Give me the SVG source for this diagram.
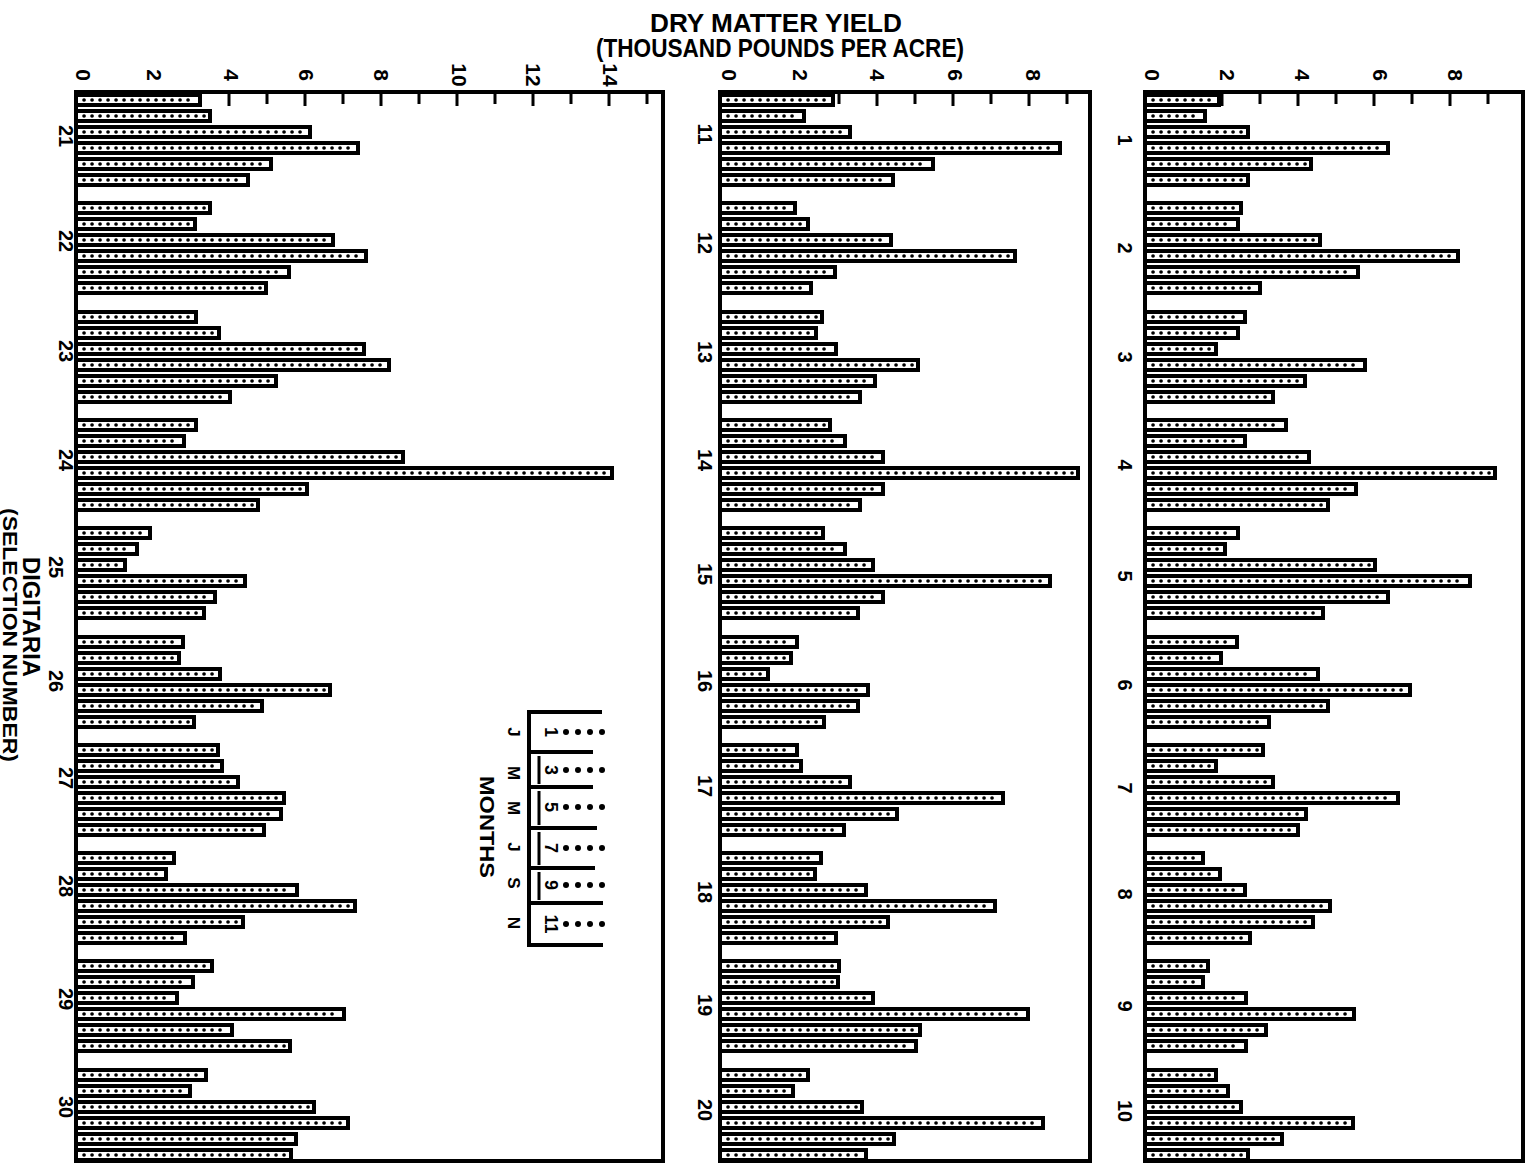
<svg xmlns="http://www.w3.org/2000/svg" width="1532" height="1164" viewBox="0 0 1532 1164">
<style>
text{font-family:"Liberation Sans",Arial,sans-serif;font-weight:bold;fill:#000}
.t{font-size:25px;text-anchor:middle}
.r{text-anchor:middle;dominant-baseline:central}
.ax{font-size:21px}
.lab{font-size:20px}
.leg{font-size:18px}
.frame{fill:none;stroke:#000;stroke-width:4}
.tick{stroke:#000;stroke-width:3}
.bar{fill:#fff;stroke:#000;stroke-width:4}
.dots{fill:none;stroke:#000;stroke-width:3.6;stroke-linecap:round;stroke-dasharray:0.1 7.9}
.ln{stroke:#000;stroke-width:4;fill:none}
</style>
<rect width="1532" height="1164" fill="#fff"/>
<g id="title">
<text class="t" x="776" y="32" textLength="252" lengthAdjust="spacingAndGlyphs">DRY MATTER YIELD</text>
<text class="t" x="780" y="57" font-size="24" textLength="368" lengthAdjust="spacingAndGlyphs">(THOUSAND POUNDS PER ACRE)</text>
</g>
<g id="axis-title">
<text class="r" font-size="23" transform="translate(31,617) rotate(90)" textLength="120" lengthAdjust="spacingAndGlyphs">DIGITARIA</text>
<text class="r" font-size="21" transform="translate(10,635) rotate(90)" textLength="254" lengthAdjust="spacingAndGlyphs">(SELECTION NUMBER)</text>
</g>
<g id="panel-1">
<path class="tick" d="M115 92V104M153 92V106M191 92V104M229 92V106M267 92V104M305 92V106M343 92V104M381 92V106M419 92V104M457 92V106M495 92V104M533 92V106M571 92V104M609 92V106M647 92V104"/>
<g class="ax r">
<text transform="translate(83,75) rotate(90)">0</text>
<text transform="translate(154,75) rotate(90)">2</text>
<text transform="translate(231,75) rotate(90)">4</text>
<text transform="translate(306,75) rotate(90)">6</text>
<text transform="translate(381,75) rotate(90)">8</text>
<text transform="translate(459,75) rotate(90)">10</text>
<text transform="translate(533,75) rotate(90)">12</text>
<text transform="translate(610,75) rotate(90)">14</text>
</g>
</g>
<g id="panel-2">
<path class="tick" d="M763 92V104M801 92V106M839 92V104M877 92V106M915 92V104M953 92V106M991 92V104M1029 92V106M1067 92V104"/>
<g class="ax r">
<text transform="translate(729,75) rotate(90)">0</text>
<text transform="translate(800,75) rotate(90)">2</text>
<text transform="translate(877,75) rotate(90)">4</text>
<text transform="translate(955,75) rotate(90)">6</text>
<text transform="translate(1033,75) rotate(90)">8</text>
</g>
</g>
<g id="panel-3">
<path class="tick" d="M1184 92V104M1222 92V106M1260 92V104M1298 92V106M1336 92V104M1374 92V106M1412 92V104M1450 92V106M1488 92V104"/>
<g class="ax r">
<text transform="translate(1152,75) rotate(90)">0</text>
<text transform="translate(1227,75) rotate(90)">2</text>
<text transform="translate(1302,75) rotate(90)">4</text>
<text transform="translate(1380,75) rotate(90)">6</text>
<text transform="translate(1455,75) rotate(90)">8</text>
</g>
</g>

<g id="sel-21" transform="translate(76,93)"><text class="lab r" transform="translate(-10,43) rotate(90)">21</text>
<rect class="bar" x="0" y="2" width="124" height="10"/><rect class="bar" x="0" y="18" width="134" height="10"/><rect class="bar" x="0" y="34" width="234" height="10"/><rect class="bar" x="0" y="50" width="282" height="10"/><rect class="bar" x="0" y="66" width="195" height="10"/><rect class="bar" x="0" y="82" width="172" height="10"/>
<path class="dots" d="M8 7H119M8 23H129M8 39H229M8 55H277M8 71H190M8 87H167"/></g>
<g id="sel-22" transform="translate(76,201)"><text class="lab r" transform="translate(-10,40) rotate(90)">22</text>
<rect class="bar" x="0" y="2" width="134" height="10"/><rect class="bar" x="0" y="18" width="119" height="10"/><rect class="bar" x="0" y="34" width="257" height="10"/><rect class="bar" x="0" y="50" width="290" height="10"/><rect class="bar" x="0" y="66" width="213" height="10"/><rect class="bar" x="0" y="82" width="190" height="10"/>
<path class="dots" d="M8 7H129M8 23H114M8 39H252M8 55H285M8 71H208M8 87H185"/></g>
<g id="sel-23" transform="translate(76,310)"><text class="lab r" transform="translate(-10,41) rotate(90)">23</text>
<rect class="bar" x="0" y="2" width="120" height="10"/><rect class="bar" x="0" y="18" width="143" height="10"/><rect class="bar" x="0" y="34" width="288" height="10"/><rect class="bar" x="0" y="50" width="313" height="10"/><rect class="bar" x="0" y="66" width="200" height="10"/><rect class="bar" x="0" y="82" width="154" height="10"/>
<path class="dots" d="M8 7H115M8 23H138M8 39H283M8 55H308M8 71H195M8 87H149"/></g>
<g id="sel-24" transform="translate(76,418)"><text class="lab r" transform="translate(-10,42) rotate(90)">24</text>
<rect class="bar" x="0" y="2" width="120" height="10"/><rect class="bar" x="0" y="18" width="108" height="10"/><rect class="bar" x="0" y="34" width="327" height="10"/><rect class="bar" x="0" y="50" width="536" height="10"/><rect class="bar" x="0" y="66" width="231" height="10"/><rect class="bar" x="0" y="82" width="182" height="10"/>
<path class="dots" d="M8 7H115M8 23H103M8 39H322M8 55H531M8 71H226M8 87H177"/></g>
<g id="sel-25" transform="translate(76,526)"><text class="lab r" transform="translate(-20,41) rotate(90)">25</text>
<rect class="bar" x="0" y="2" width="74" height="10"/><rect class="bar" x="0" y="18" width="61" height="10"/><rect class="bar" x="0" y="34" width="49" height="10"/><rect class="bar" x="0" y="50" width="169" height="10"/><rect class="bar" x="0" y="66" width="139" height="10"/><rect class="bar" x="0" y="82" width="128" height="10"/>
<path class="dots" d="M8 7H69M8 23H56M8 39H44M8 55H164M8 71H134M8 87H123"/></g>
<g id="sel-26" transform="translate(76,635)"><text class="lab r" transform="translate(-20,46) rotate(90)">26</text>
<rect class="bar" x="0" y="2" width="107" height="10"/><rect class="bar" x="0" y="18" width="103" height="10"/><rect class="bar" x="0" y="34" width="144" height="10"/><rect class="bar" x="0" y="50" width="254" height="10"/><rect class="bar" x="0" y="66" width="186" height="10"/><rect class="bar" x="0" y="82" width="118" height="10"/>
<path class="dots" d="M8 7H102M8 23H98M8 39H139M8 55H249M8 71H181M8 87H113"/></g>
<g id="sel-27" transform="translate(76,743)"><text class="lab r" transform="translate(-10,35) rotate(90)">27</text>
<rect class="bar" x="0" y="2" width="142" height="10"/><rect class="bar" x="0" y="18" width="146" height="10"/><rect class="bar" x="0" y="34" width="162" height="10"/><rect class="bar" x="0" y="50" width="208" height="10"/><rect class="bar" x="0" y="66" width="205" height="10"/><rect class="bar" x="0" y="82" width="188" height="10"/>
<path class="dots" d="M8 7H137M8 23H141M8 39H157M8 55H203M8 71H200M8 87H183"/></g>
<g id="sel-28" transform="translate(76,851)"><text class="lab r" transform="translate(-10,35) rotate(90)">28</text>
<rect class="bar" x="0" y="2" width="98" height="10"/><rect class="bar" x="0" y="18" width="90" height="10"/><rect class="bar" x="0" y="34" width="221" height="10"/><rect class="bar" x="0" y="50" width="279" height="10"/><rect class="bar" x="0" y="66" width="167" height="10"/><rect class="bar" x="0" y="82" width="109" height="10"/>
<path class="dots" d="M8 7H93M8 23H85M8 39H216M8 55H274M8 71H162M8 87H104"/></g>
<g id="sel-29" transform="translate(76,959)"><text class="lab r" transform="translate(-10,40) rotate(90)">29</text>
<rect class="bar" x="0" y="2" width="136" height="10"/><rect class="bar" x="0" y="18" width="117" height="10"/><rect class="bar" x="0" y="34" width="101" height="10"/><rect class="bar" x="0" y="50" width="268" height="10"/><rect class="bar" x="0" y="66" width="156" height="10"/><rect class="bar" x="0" y="82" width="214" height="10"/>
<path class="dots" d="M8 7H131M8 23H112M8 39H96M8 55H263M8 71H151M8 87H209"/></g>
<g id="sel-30" transform="translate(76,1068)"><text class="lab r" transform="translate(-10,39) rotate(90)">30</text>
<rect class="bar" x="0" y="2" width="130" height="10"/><rect class="bar" x="0" y="18" width="114" height="10"/><rect class="bar" x="0" y="34" width="238" height="10"/><rect class="bar" x="0" y="50" width="272" height="10"/><rect class="bar" x="0" y="66" width="220" height="10"/><rect class="bar" x="0" y="82" width="215" height="10"/>
<path class="dots" d="M8 7H125M8 23H109M8 39H233M8 55H267M8 71H215M8 87H210"/></g>

<g id="sel-11" transform="translate(720,93)"><text class="lab r" transform="translate(-15,41) rotate(90)">11</text>
<rect class="bar" x="0" y="2" width="113" height="10"/><rect class="bar" x="0" y="18" width="84" height="10"/><rect class="bar" x="0" y="34" width="130" height="10"/><rect class="bar" x="0" y="50" width="340" height="10"/><rect class="bar" x="0" y="66" width="213" height="10"/><rect class="bar" x="0" y="82" width="173" height="10"/>
<path class="dots" d="M8 7H108M8 23H79M8 39H125M8 55H335M8 71H208M8 87H168"/></g>
<g id="sel-12" transform="translate(720,201)"><text class="lab r" transform="translate(-15,42) rotate(90)">12</text>
<rect class="bar" x="0" y="2" width="75" height="10"/><rect class="bar" x="0" y="18" width="88" height="10"/><rect class="bar" x="0" y="34" width="171" height="10"/><rect class="bar" x="0" y="50" width="295" height="10"/><rect class="bar" x="0" y="66" width="115" height="10"/><rect class="bar" x="0" y="82" width="91" height="10"/>
<path class="dots" d="M8 7H70M8 23H83M8 39H166M8 55H290M8 71H110M8 87H86"/></g>
<g id="sel-13" transform="translate(720,310)"><text class="lab r" transform="translate(-15,42) rotate(90)">13</text>
<rect class="bar" x="0" y="2" width="102" height="10"/><rect class="bar" x="0" y="18" width="96" height="10"/><rect class="bar" x="0" y="34" width="116" height="10"/><rect class="bar" x="0" y="50" width="198" height="10"/><rect class="bar" x="0" y="66" width="155" height="10"/><rect class="bar" x="0" y="82" width="140" height="10"/>
<path class="dots" d="M8 7H97M8 23H91M8 39H111M8 55H193M8 71H150M8 87H135"/></g>
<g id="sel-14" transform="translate(720,418)"><text class="lab r" transform="translate(-15,42) rotate(90)">14</text>
<rect class="bar" x="0" y="2" width="110" height="10"/><rect class="bar" x="0" y="18" width="125" height="10"/><rect class="bar" x="0" y="34" width="163" height="10"/><rect class="bar" x="0" y="50" width="358" height="10"/><rect class="bar" x="0" y="66" width="163" height="10"/><rect class="bar" x="0" y="82" width="140" height="10"/>
<path class="dots" d="M8 7H105M8 23H120M8 39H158M8 55H353M8 71H158M8 87H135"/></g>
<g id="sel-15" transform="translate(720,526)"><text class="lab r" transform="translate(-15,48) rotate(90)">15</text>
<rect class="bar" x="0" y="2" width="103" height="10"/><rect class="bar" x="0" y="18" width="125" height="10"/><rect class="bar" x="0" y="34" width="153" height="10"/><rect class="bar" x="0" y="50" width="330" height="10"/><rect class="bar" x="0" y="66" width="163" height="10"/><rect class="bar" x="0" y="82" width="138" height="10"/>
<path class="dots" d="M8 7H98M8 23H120M8 39H148M8 55H325M8 71H158M8 87H133"/></g>
<g id="sel-16" transform="translate(720,635)"><text class="lab r" transform="translate(-15,46) rotate(90)">16</text>
<rect class="bar" x="0" y="2" width="77" height="10"/><rect class="bar" x="0" y="18" width="71" height="10"/><rect class="bar" x="0" y="34" width="48" height="10"/><rect class="bar" x="0" y="50" width="148" height="10"/><rect class="bar" x="0" y="66" width="138" height="10"/><rect class="bar" x="0" y="82" width="104" height="10"/>
<path class="dots" d="M8 7H72M8 23H66M8 39H43M8 55H143M8 71H133M8 87H99"/></g>
<g id="sel-17" transform="translate(720,743)"><text class="lab r" transform="translate(-15,43) rotate(90)">17</text>
<rect class="bar" x="0" y="2" width="77" height="10"/><rect class="bar" x="0" y="18" width="81" height="10"/><rect class="bar" x="0" y="34" width="130" height="10"/><rect class="bar" x="0" y="50" width="283" height="10"/><rect class="bar" x="0" y="66" width="177" height="10"/><rect class="bar" x="0" y="82" width="124" height="10"/>
<path class="dots" d="M8 7H72M8 23H76M8 39H125M8 55H278M8 71H172M8 87H119"/></g>
<g id="sel-18" transform="translate(720,851)"><text class="lab r" transform="translate(-15,41) rotate(90)">18</text>
<rect class="bar" x="0" y="2" width="101" height="10"/><rect class="bar" x="0" y="18" width="95" height="10"/><rect class="bar" x="0" y="34" width="146" height="10"/><rect class="bar" x="0" y="50" width="275" height="10"/><rect class="bar" x="0" y="66" width="168" height="10"/><rect class="bar" x="0" y="82" width="116" height="10"/>
<path class="dots" d="M8 7H96M8 23H90M8 39H141M8 55H270M8 71H163M8 87H111"/></g>
<g id="sel-19" transform="translate(720,959)"><text class="lab r" transform="translate(-15,46) rotate(90)">19</text>
<rect class="bar" x="0" y="2" width="119" height="10"/><rect class="bar" x="0" y="18" width="118" height="10"/><rect class="bar" x="0" y="34" width="153" height="10"/><rect class="bar" x="0" y="50" width="308" height="10"/><rect class="bar" x="0" y="66" width="200" height="10"/><rect class="bar" x="0" y="82" width="196" height="10"/>
<path class="dots" d="M8 7H114M8 23H113M8 39H148M8 55H303M8 71H195M8 87H191"/></g>
<g id="sel-20" transform="translate(720,1068)"><text class="lab r" transform="translate(-15,42) rotate(90)">20</text>
<rect class="bar" x="0" y="2" width="88" height="10"/><rect class="bar" x="0" y="18" width="73" height="10"/><rect class="bar" x="0" y="34" width="142" height="10"/><rect class="bar" x="0" y="50" width="323" height="10"/><rect class="bar" x="0" y="66" width="174" height="10"/><rect class="bar" x="0" y="82" width="146" height="10"/>
<path class="dots" d="M8 7H83M8 23H68M8 39H137M8 55H318M8 71H169M8 87H141"/></g>

<g id="sel-1" transform="translate(1145,93)"><text class="lab r" transform="translate(-20,47) rotate(90)">1</text>
<rect class="bar" x="0" y="2" width="74" height="10"/><rect class="bar" x="0" y="18" width="60" height="10"/><rect class="bar" x="0" y="34" width="103" height="10"/><rect class="bar" x="0" y="50" width="243" height="10"/><rect class="bar" x="0" y="66" width="166" height="10"/><rect class="bar" x="0" y="82" width="103" height="10"/>
<path class="dots" d="M8 7H69M8 23H55M8 39H98M8 55H238M8 71H161M8 87H98"/></g>
<g id="sel-2" transform="translate(1145,201)"><text class="lab r" transform="translate(-20,47) rotate(90)">2</text>
<rect class="bar" x="0" y="2" width="96" height="10"/><rect class="bar" x="0" y="18" width="93" height="10"/><rect class="bar" x="0" y="34" width="175" height="10"/><rect class="bar" x="0" y="50" width="313" height="10"/><rect class="bar" x="0" y="66" width="213" height="10"/><rect class="bar" x="0" y="82" width="115" height="10"/>
<path class="dots" d="M8 7H91M8 23H88M8 39H170M8 55H308M8 71H208M8 87H110"/></g>
<g id="sel-3" transform="translate(1145,310)"><text class="lab r" transform="translate(-20,47) rotate(90)">3</text>
<rect class="bar" x="0" y="2" width="100" height="10"/><rect class="bar" x="0" y="18" width="93" height="10"/><rect class="bar" x="0" y="34" width="71" height="10"/><rect class="bar" x="0" y="50" width="220" height="10"/><rect class="bar" x="0" y="66" width="160" height="10"/><rect class="bar" x="0" y="82" width="128" height="10"/>
<path class="dots" d="M8 7H95M8 23H88M8 39H66M8 55H215M8 71H155M8 87H123"/></g>
<g id="sel-4" transform="translate(1145,418)"><text class="lab r" transform="translate(-20,47) rotate(90)">4</text>
<rect class="bar" x="0" y="2" width="141" height="10"/><rect class="bar" x="0" y="18" width="100" height="10"/><rect class="bar" x="0" y="34" width="164" height="10"/><rect class="bar" x="0" y="50" width="350" height="10"/><rect class="bar" x="0" y="66" width="211" height="10"/><rect class="bar" x="0" y="82" width="183" height="10"/>
<path class="dots" d="M8 7H136M8 23H95M8 39H159M8 55H345M8 71H206M8 87H178"/></g>
<g id="sel-5" transform="translate(1145,526)"><text class="lab r" transform="translate(-20,50) rotate(90)">5</text>
<rect class="bar" x="0" y="2" width="93" height="10"/><rect class="bar" x="0" y="18" width="80" height="10"/><rect class="bar" x="0" y="34" width="230" height="10"/><rect class="bar" x="0" y="50" width="325" height="10"/><rect class="bar" x="0" y="66" width="243" height="10"/><rect class="bar" x="0" y="82" width="178" height="10"/>
<path class="dots" d="M8 7H88M8 23H75M8 39H225M8 55H320M8 71H238M8 87H173"/></g>
<g id="sel-6" transform="translate(1145,635)"><text class="lab r" transform="translate(-20,50) rotate(90)">6</text>
<rect class="bar" x="0" y="2" width="92" height="10"/><rect class="bar" x="0" y="18" width="76" height="10"/><rect class="bar" x="0" y="34" width="173" height="10"/><rect class="bar" x="0" y="50" width="265" height="10"/><rect class="bar" x="0" y="66" width="183" height="10"/><rect class="bar" x="0" y="82" width="124" height="10"/>
<path class="dots" d="M8 7H87M8 23H71M8 39H168M8 55H260M8 71H178M8 87H119"/></g>
<g id="sel-7" transform="translate(1145,743)"><text class="lab r" transform="translate(-20,45) rotate(90)">7</text>
<rect class="bar" x="0" y="2" width="118" height="10"/><rect class="bar" x="0" y="18" width="71" height="10"/><rect class="bar" x="0" y="34" width="128" height="10"/><rect class="bar" x="0" y="50" width="253" height="10"/><rect class="bar" x="0" y="66" width="161" height="10"/><rect class="bar" x="0" y="82" width="153" height="10"/>
<path class="dots" d="M8 7H113M8 23H66M8 39H123M8 55H248M8 71H156M8 87H148"/></g>
<g id="sel-8" transform="translate(1145,851)"><text class="lab r" transform="translate(-20,43) rotate(90)">8</text>
<rect class="bar" x="0" y="2" width="58" height="10"/><rect class="bar" x="0" y="18" width="75" height="10"/><rect class="bar" x="0" y="34" width="100" height="10"/><rect class="bar" x="0" y="50" width="185" height="10"/><rect class="bar" x="0" y="66" width="168" height="10"/><rect class="bar" x="0" y="82" width="105" height="10"/>
<path class="dots" d="M8 7H53M8 23H70M8 39H95M8 55H180M8 71H163M8 87H100"/></g>
<g id="sel-9" transform="translate(1145,959)"><text class="lab r" transform="translate(-20,47) rotate(90)">9</text>
<rect class="bar" x="0" y="2" width="63" height="10"/><rect class="bar" x="0" y="18" width="58" height="10"/><rect class="bar" x="0" y="34" width="101" height="10"/><rect class="bar" x="0" y="50" width="209" height="10"/><rect class="bar" x="0" y="66" width="121" height="10"/><rect class="bar" x="0" y="82" width="101" height="10"/>
<path class="dots" d="M8 7H58M8 23H53M8 39H96M8 55H204M8 71H116M8 87H96"/></g>
<g id="sel-10" transform="translate(1145,1068)"><text class="lab r" transform="translate(-20,43) rotate(90)">10</text>
<rect class="bar" x="0" y="2" width="71" height="10"/><rect class="bar" x="0" y="18" width="83" height="10"/><rect class="bar" x="0" y="34" width="96" height="10"/><rect class="bar" x="0" y="50" width="208" height="10"/><rect class="bar" x="0" y="66" width="137" height="10"/><rect class="bar" x="0" y="82" width="103" height="10"/>
<path class="dots" d="M8 7H66M8 23H78M8 39H91M8 55H203M8 71H132M8 87H98"/></g>

<g id="frames">
<rect class="frame" x="76" y="92" width="587" height="1069"/>
<rect class="frame" x="720" y="92" width="370" height="1069"/>
<rect class="frame" x="1145" y="92" width="378" height="1069"/>
</g>

<g id="legend">
<path class="ln" d="M529 710V947M527 712H602M529 752H593M529 787H593M529 828H597M529 868H595M529 903H603M527 945H603"/>
<path class="tick" d="M539 756V784M539 791V825M539 832V865M539 872V900"/>
<g class="leg r">
<text transform="translate(551,732) rotate(90)">1</text>
<text transform="translate(551,770) rotate(90)">3</text>
<text transform="translate(551,807) rotate(90)">5</text>
<text transform="translate(551,848) rotate(90)">7</text>
<text transform="translate(551,885) rotate(90)">9</text>
<text transform="translate(551,924) rotate(90)">11</text>
</g>
<g fill="#000">
<circle cx="566" cy="732" r="3"/><circle cx="578" cy="732" r="3"/><circle cx="590" cy="732" r="3"/><circle cx="602" cy="732" r="3"/>
<circle cx="566" cy="770" r="3"/><circle cx="578" cy="770" r="3"/><circle cx="590" cy="770" r="3"/><circle cx="602" cy="770" r="3"/>
<circle cx="566" cy="807" r="3"/><circle cx="578" cy="807" r="3"/><circle cx="590" cy="807" r="3"/><circle cx="602" cy="807" r="3"/>
<circle cx="566" cy="848" r="3"/><circle cx="578" cy="848" r="3"/><circle cx="590" cy="848" r="3"/><circle cx="602" cy="848" r="3"/>
<circle cx="566" cy="885" r="3"/><circle cx="578" cy="885" r="3"/><circle cx="590" cy="885" r="3"/><circle cx="602" cy="885" r="3"/>
<circle cx="566" cy="924" r="3"/><circle cx="578" cy="924" r="3"/><circle cx="590" cy="924" r="3"/><circle cx="602" cy="924" r="3"/>
</g>
<g class="r" font-size="17">
<text transform="translate(513,732) rotate(90)">J</text>
<text transform="translate(513,773) rotate(90)">M</text>
<text transform="translate(513,808) rotate(90)">M</text>
<text transform="translate(513,847) rotate(90)">J</text>
<text transform="translate(513,883) rotate(90)">S</text>
<text transform="translate(513,923) rotate(90)">N</text>
</g>
<text class="r" font-size="20" transform="translate(487,827) rotate(90)" textLength="102" lengthAdjust="spacingAndGlyphs">MONTHS</text>
</g>
</svg>
